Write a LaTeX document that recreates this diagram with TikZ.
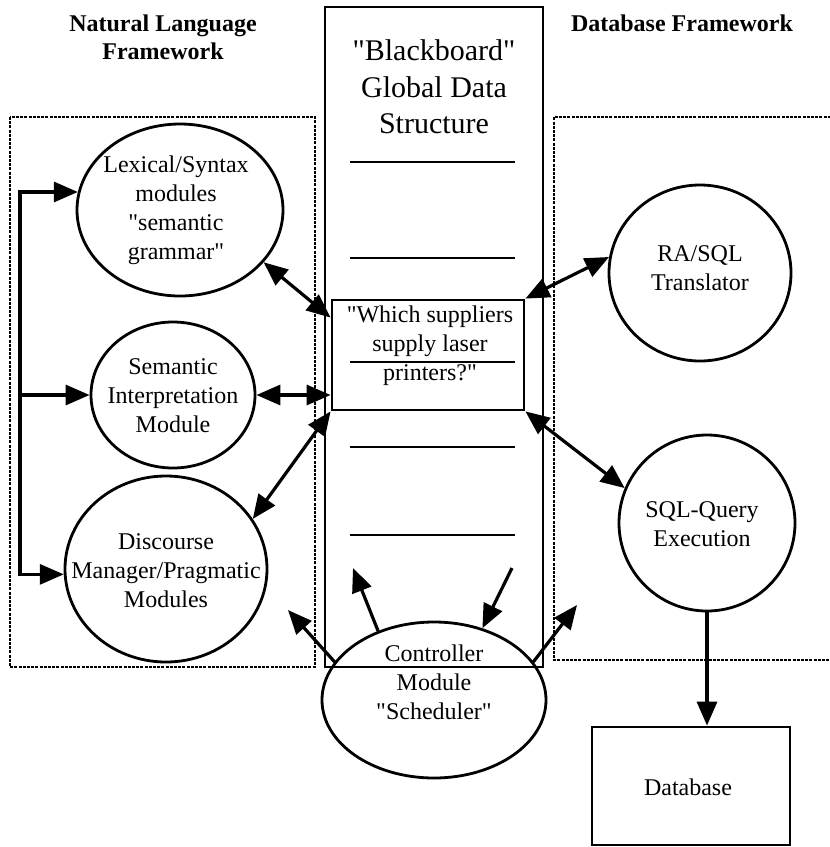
\documentclass[tikz,border=0pt]{standalone}
\usepackage{fontspec}
\setmainfont{Liberation Serif}[Ligatures=TeXOff]
\usetikzlibrary{shapes.geometric,arrows.meta,calc}
\tikzset{
  mod/.style={ellipse, draw, line width=2.8pt, inner sep=0pt},
  box/.style={rectangle, draw, line width=2.8pt, inner sep=0pt},
  lbl/.style={align=center, inner sep=0pt, font=\fontsize{24}{29}\selectfont},
  hdr/.style={align=center, inner sep=0pt, font=\bfseries\fontsize{24}{28}\selectfont},
  ttl/.style={align=center, inner sep=0pt, font=\fontsize{30}{36.5}\selectfont},
  arr/.style={line width=3.2pt, -{Triangle[length=24pt 0,width=20pt 0]}},
  darr/.style={line width=3.2pt, {Triangle[length=24pt 0,width=20pt 0]}-{Triangle[length=24pt 0,width=20pt 0]}},
  fw/.style={line width=1.7pt, dash pattern=on 3pt off 1.2pt},
  slot/.style={line width=2.8pt}
}
\begin{document}
\begin{tikzpicture}[x=1pt,y=-1pt]
\useasboundingbox (0,0) rectangle (830,847);
% frameworks
\draw[fw] (10,117) rectangle (315,667);
\draw[fw] (835,117) -- (554,117) -- (554,660) -- (835,660);
\node[hdr] (nlh) at (163,37) {Natural Language\\Framework};
\node[hdr] (dbh) at (682,23) {Database Framework};
% blackboard
\node[box, minimum width=218pt, minimum height=660pt] (bb) at (434,337) {};
\node[ttl] (bbt) at (434,87) {"Blackboard"\\Global Data\\Structure};
\node[box, minimum width=192pt, minimum height=110pt] (query) at (428,355) {};
\node[lbl] (qt) at (430,346) {"Which suppliers\\supply laser\\printers?"};
\foreach \yy in {162,258,362,447,535} \draw[slot] (350,\yy) -- (515,\yy);
% modules
\node[mod, minimum width=206pt, minimum height=172pt] (lex) at (180,210) {};
\node[lbl] (lext) at (176,210) {Lexical/Syntax\\modules\\"semantic\\grammar"};
\node[mod, minimum width=164pt, minimum height=146pt] (sem) at (173,395) {};
\node[lbl] (semt) at (173,396) {Semantic\\Interpretation\\Module};
\node[mod, minimum width=202pt, minimum height=186pt] (disc) at (166,569) {};
\node[lbl] (disct) at (166,571) {Discourse\\Manager/Pragmatic\\Modules};
\node[mod, minimum width=182pt, minimum height=176pt] (ra) at (700,273) {};
\node[lbl] (rat) at (700,268) {RA/SQL\\Translator};
\node[mod, minimum width=176pt, minimum height=176pt] (sq) at (707,523) {};
\node[lbl] (sqt) at (702,524) {SQL-Query\\Execution};
\node[mod, minimum width=224pt, minimum height=156pt] (ctrl) at (434,700) {};
\node[lbl] (ctrlt) at (434,682) {Controller\\Module\\"Scheduler"};
\node[box, minimum width=198pt, minimum height=118pt] (db) at (691,786) {};
\node[lbl] (dbt) at (688,787) {Database};
% connectors
\coordinate (fbx) at (20,0);
\draw[arr] (lex.170 -| fbx) |- (disc.183);
\draw[arr] (disc.183 -| fbx) |- (lex.170);
\draw[arr] (sem.west -| fbx) -- (sem.west);
\draw[darr] (lex.-32) -- (query.159);
\draw[darr] (sem.east) -- (sem.east -| query.west);
\draw[darr] (disc.30) -- (query.south west);
\draw[darr] (query.north east) -- (ra.170);
\draw[darr] (query.south east) -- (sq.157);
\draw[arr] (sq.south) -- (sq.south |- db.north);
\coordinate (c1) at (288,610);
\coordinate (c2) at (353,568);
\coordinate (c3) at (512,568);
\coordinate (c4) at (577,605);
\draw[arr] (ctrl.159) -- (c1);
\draw[arr] (ctrl.129) -- (c2);
\draw[arr] (c3) -- (ctrl.56);
\draw[arr] (ctrl.21) -- (c4);
\end{tikzpicture}
\end{document}
